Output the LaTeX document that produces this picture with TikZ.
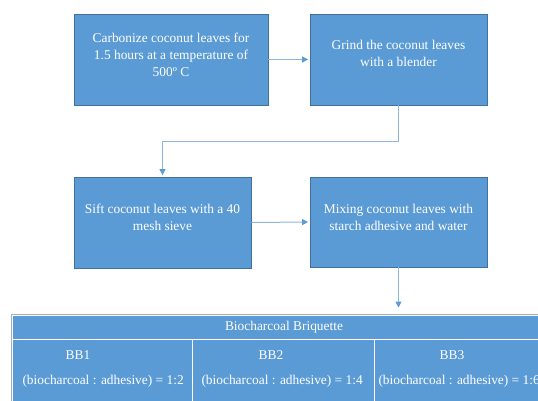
\documentclass[tikz,border=0pt]{standalone}
\usepackage{fontspec}
\setmainfont{Liberation Serif}
\usetikzlibrary{positioning, arrows.meta}
\definecolor{boxblue}{HTML}{5B9BD5}
\definecolor{boxedge}{HTML}{41719C}
\definecolor{linkblue}{HTML}{8DB6E0}
\definecolor{tabedge}{HTML}{9AAFC4}

\begin{document}
\begin{tikzpicture}[x=1pt, y=-1pt,
  stepbox/.style={draw=boxedge, fill=boxblue, line width=0.8pt, minimum width=177pt, minimum height=91pt, inner sep=0pt},
  steptext/.style={text=white, align=center, font=\fontsize{13.4}{17}\selectfont},
  link/.style={draw=linkblue, line width=1pt, shorten >=1.5pt, -{Triangle[length=6pt, width=6pt, color=boxblue]}},
  cell/.style={fill=boxblue, draw=white, line width=1pt, inner sep=0pt, text=white, font=\fontsize{13.4}{17}\selectfont}]
\clip (0,0) rectangle (538,401);

% process steps
\node[stepbox, minimum width=194pt] (carb) at (171,59.5) {};
\node[steptext] (carbtxt) at (171,55) {Carbonize coconut leaves for\\1.5 hours at a temperature of\\500º C};

\node[stepbox] (grind) at (398.5,59.5) {};
\node[steptext] (grindtxt) at (398.5,53.5) {Grind the coconut leaves\\with a blender};

\node[stepbox] (sift) at (162.5,222.5) {};
\node[steptext] (sifttxt) at (162.5,217.5) {Sift coconut leaves with a 40\\mesh sieve};

\node[stepbox, minimum height=90pt] (mix) at (398.5,222) {};
\node[steptext] (mixtxt) at (398.5,217.5) {Mixing coconut leaves with\\starch adhesive and water};

% table
\node[cell, minimum width=544pt, minimum height=24pt] (head) at (284,327) {Biocharcoal Briquette};
\node[cell, minimum width=180pt, minimum height=82pt] (col1) at (102,380) {};
\node[cell, minimum width=182pt, minimum height=82pt] (col2) at (283,380) {};
\node[cell, minimum width=182pt, minimum height=82pt] (col3) at (465,380) {};
\draw[tabedge, line width=1pt] (col1.south west) |- (head.north east) -- (col3.south east);

\node[cell, draw=none, fill=none] (bb1) at (78,355) {BB1};
\node[cell, draw=none, fill=none] (bb2) at (271,355) {BB2};
\node[cell, draw=none, fill=none] (bb3) at (452,355) {BB3};
\node[cell, draw=none, fill=none, anchor=west] (r1) at (22,381) {(biocharcoal : adhesive) = 1:2};
\node[cell, draw=none, fill=none, anchor=west] (r2) at (201,381) {(biocharcoal : adhesive) = 1:4};
\node[cell, draw=none, fill=none, anchor=west] (r3) at (378,381) {(biocharcoal : adhesive) = 1:6};

% connectors
\draw[link] (carb.east) -- (grind.west);
\draw[link] (grind.south) -- ++(0,36) -| (sift.north);
\draw[link] (sift.east) -- (mix.west);
\draw[link, shorten >=7pt] (mix.south) -- (mix.south |- head.north);
\end{tikzpicture}
\end{document}
